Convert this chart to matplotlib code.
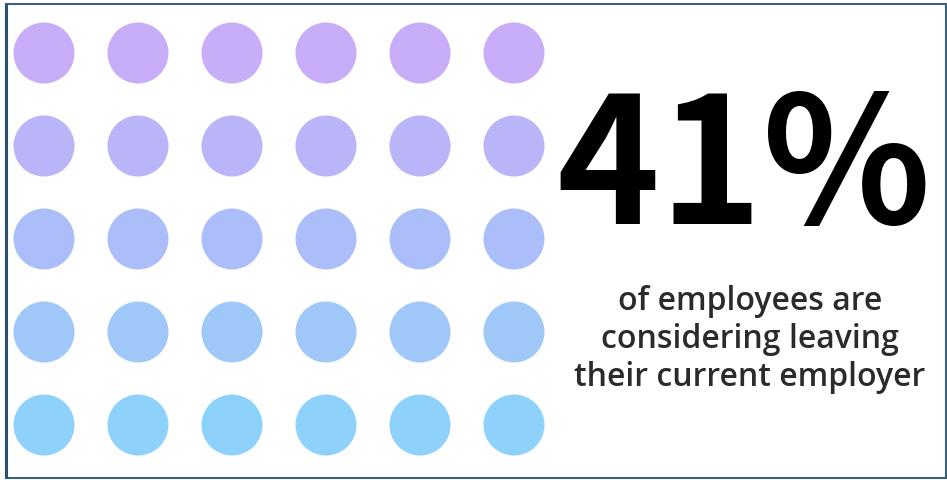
import matplotlib.pyplot as plt
from matplotlib.patches import Circle, Rectangle

# Data
row_colors = ['#c8aef8', '#bab4f8', '#acbef9', '#9fc8f9', '#8ed1fa']
n_cols = 6
big_number = '41%'
caption = ['of employees are', 'considering leaving', 'their current employer']

W, H = 947, 480


def main():
    fig = plt.figure(figsize=(W / 100, H / 100), dpi=100)
    ax = fig.add_axes([0, 0, 1, 1])
    ax.set_xlim(0, W)
    ax.set_ylim(H, 0)
    ax.axis('off')

    # dot grid
    for r, color in enumerate(row_colors):
        for c in range(n_cols):
            ax.add_patch(Circle((44 + 94 * c, 53 + 93 * r), 30.5, color=color, lw=0))

    # frame
    ax.add_patch(Rectangle((5.5, 3.5), 940, 474, fill=False, ec='#3d5f7a', lw=1.5))
    ax.plot([5.5, 5.5], [3.5, 477.5], color='#2c4f6b', lw=2.2, solid_capstyle='butt')

    ax.text(744, 172, big_number, ha='center', va='center', fontsize=126,
            fontweight='semibold', family=['Noto Sans CJK TC', 'DejaVu Sans'], color='#000000')

    for i, line in enumerate(caption):
        ax.text(750, 301 + 38 * i, line, ha='center', va='center', fontsize=23,
                fontweight='semibold', family=['Open Sans', 'DejaVu Sans'], color='#2b2b2b')

    fig.savefig('out.png', dpi=100)


if __name__ == '__main__':
    main()
